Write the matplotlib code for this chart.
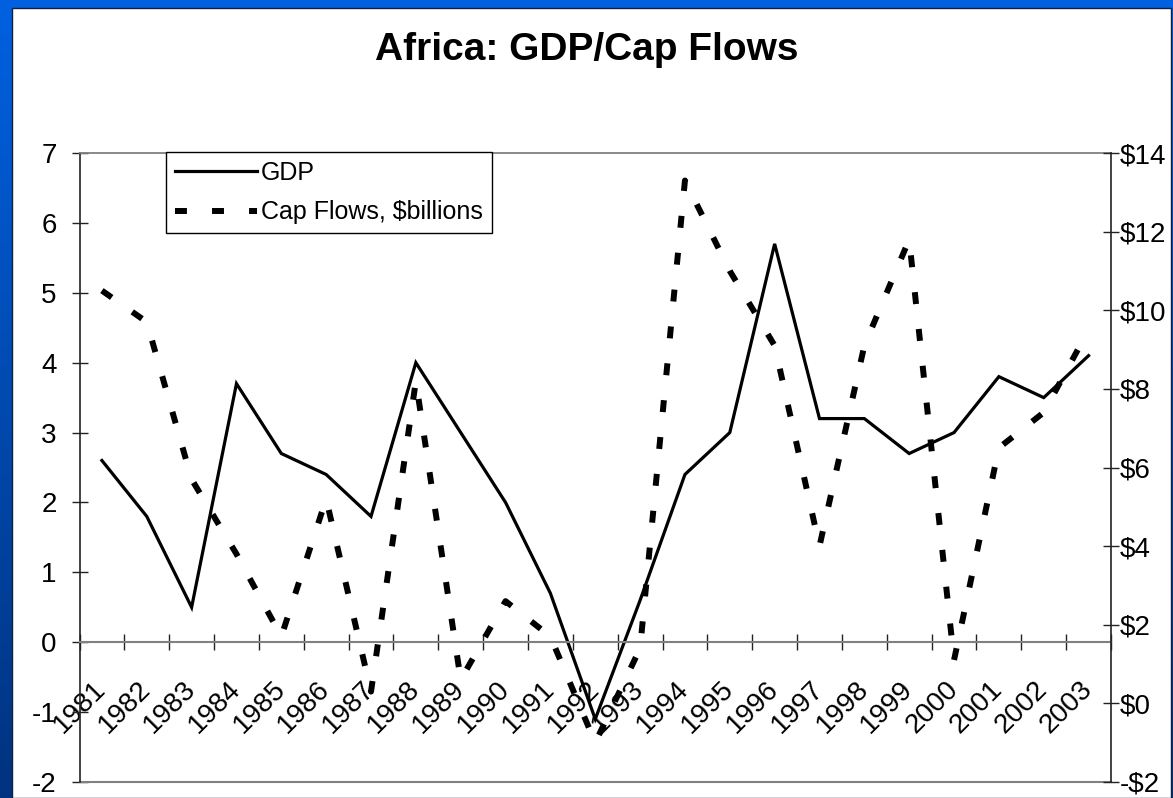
import numpy as np
import matplotlib
matplotlib.use("Agg")
import matplotlib.pyplot as plt
from matplotlib.patches import Rectangle
from matplotlib.ticker import FuncFormatter

plt.rcParams['font.family'] = ['Liberation Sans', 'DejaVu Sans']
plt.rcParams['axes.unicode_minus'] = False

# data
years = [str(y) for y in range(1981, 2004)]
gdp = [2.6, 1.8, 0.5, 3.7, 2.7, 2.4, 1.8, 4.0, 3.0, 2.0, 0.7, -1.1,
       0.6, 2.4, 3.0, 5.7, 3.2, 3.2, 2.7, 3.0, 3.8, 3.5, 4.1]
cap_flows = [10.5, 9.7, 5.7, 3.8, 1.7, 5.2, 0.3, 8.2, 0.6, 2.6, 1.7, -1.0,
             1.4, 13.3, 11.0, 9.1, 4.0, 9.1, 11.8, 1.1, 6.5, 7.4, 9.5]
left_ticks = list(range(-2, 8))
right_ticks = list(range(-2, 15, 2))

W, H = 1173, 798
fig = plt.figure(figsize=(W / 100, H / 100), dpi=100)

# slide background: blue gradient with a white panel
bg = fig.add_axes([0, 0, 1, 1])
grad = np.linspace(0, 1, 256).reshape(-1, 1)
top_c = np.array([0.0, 0.38, 0.88])
bot_c = np.array([0.0, 0.20, 0.50])
img = top_c + (bot_c - top_c) * grad[..., None]
bg.imshow(img, aspect='auto', extent=[0, 1, 0, 1], origin='upper')
bg.add_patch(Rectangle((12 / W, 0), (W - 14) / W, (H - 8) / H,
                       facecolor='white', edgecolor='#102040', lw=1))
bg.set_xlim(0, 1)
bg.set_ylim(0, 1)
bg.axis('off')

fig.text(0.5, 1 - 50 / H, 'Africa: GDP/Cap Flows', ha='center', va='center',
         fontsize=28, fontweight='bold')

ax = fig.add_axes([79.5 / W, (H - 782) / H, (1111 - 79.5) / W, (782 - 153) / H])
ax.set_facecolor('none')
x = np.arange(len(years))

ax.plot(x, gdp, color='black', lw=2.3, solid_joinstyle='miter', label='GDP')
ax.set_xlim(-0.5, len(years) - 0.5)
ax.set_ylim(-2, 7)
ax.set_yticks(left_ticks)

grey = '#808080'
ax.spines['bottom'].set_position(('data', 0))
ax.spines['bottom'].set_color(grey)
ax.spines['bottom'].set_linewidth(1.5)
ax.spines['top'].set_color(grey)
ax.spines['top'].set_linewidth(1.3)
ax.spines['left'].set_color('#222222')
ax.spines['left'].set_linewidth(1.2)
ax.spines['right'].set_visible(False)
ax.axhline(-2, color=grey, lw=1.5, clip_on=False)

# category boundaries get the ticks, centres get the labels
ax.set_xticks(np.arange(len(years) + 1) - 0.5)
ax.set_xticklabels([])
ax.set_xticks(x, years, minor=True)
ax.tick_params(axis='x', which='major', direction='inout', length=11,
               width=1, color='#222222')
ax.tick_params(axis='x', which='minor', length=0, pad=31, labelsize=20)
for lab in ax.get_xticklabels(minor=True):
    lab.set_rotation(45)
    lab.set_ha('right')
    lab.set_va('center')
    lab.set_rotation_mode('anchor')
ax.tick_params(axis='y', direction='inout', length=11, width=1,
               color='#222222', pad=11, labelsize=20)

ax2 = ax.twinx()
ax2.plot(x, cap_flows, color='black', lw=4.3, dash_capstyle='butt',
         linestyle=(0, (2.0, 4.2)), label='Cap Flows, $billions')
ax2.set_ylim(-2, 14)
ax2.set_yticks(right_ticks)
ax2.yaxis.set_major_formatter(FuncFormatter(
    lambda v, p: f'-${abs(int(v))}' if v < 0 else f'${int(v)}'))
for s in ['top', 'bottom', 'left']:
    ax2.spines[s].set_visible(False)
ax2.spines['right'].set_color('#222222')
ax2.spines['right'].set_linewidth(1.2)
ax2.tick_params(axis='y', direction='inout', length=11, width=1,
                color='#222222', pad=1, labelsize=20)

h1, l1 = ax.get_legend_handles_labels()
h2, l2 = ax2.get_legend_handles_labels()
leg = fig.legend(h1 + h2, l1 + l2, loc='upper left',
                 bbox_to_anchor=(166 / W, 1 - 152 / H), fontsize=18,
                 frameon=True, fancybox=False, edgecolor='black',
                 framealpha=1, borderaxespad=0, borderpad=0.35,
                 handlelength=3.3, handletextpad=0.15, labelspacing=0.62)
leg.get_frame().set_linewidth(1)

fig.savefig('out.png', dpi=100)
